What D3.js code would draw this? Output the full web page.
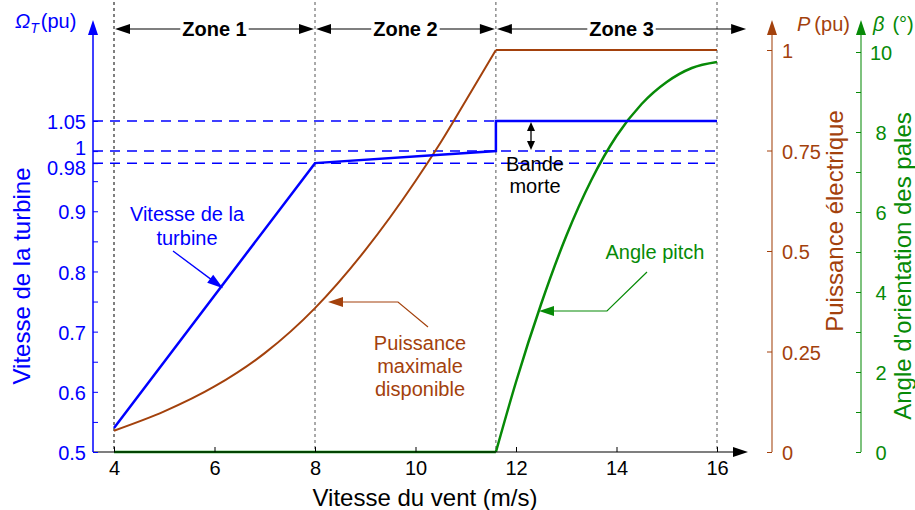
<!DOCTYPE html>
<html><head><meta charset="utf-8">
<script src="https://cdn.jsdelivr.net/npm/d3@7"></script>
<style>body{margin:0;background:#fff} svg text{font-family:"Liberation Sans",Arial,sans-serif}</style>
</head><body><svg id="c" width="915" height="510"></svg>
<script>
// ---- data ----
const windTicks=[4,6,8,10,12,14,16];
const speedTicks=[0.5,0.6,0.7,0.8,0.9,0.98,1,1.05];
const speedMinor=[0.55,0.65,0.75,0.85,0.95];
const powerTicks=[0,0.25,0.5,0.75,1];
const pitchTicks=[0,2,4,6,8,10];
const pitchMinor=[1,3,5,7,9];
const zoneBounds=[4,8,11.6,16.6];
const zoneNames=["Zone 1","Zone 2","Zone 3"];
const zoneLines=[4,8,11.6,16];
const refLevels=[1.05,1,0.98];
const turbineWind=[4,8,11.6,11.6,16];
const turbineSpeed=[0.54,0.98,1.0,1.05,1.05];
const powerWind=[4,5,6,7,8,9,10,10.5,11,11.6,16];
const powerVal=[0.053,0.101,0.163,0.246,0.358,0.502,0.674,0.77,0.874,1.0,1.0];
const pitchWind=[4,11.6,12,12.5,13,13.5,14,14.5,15,15.5,16];
const pitchVal=[0,0,1.75,3.7,5.4,6.8,7.9,8.7,9.25,9.6,9.75];

// ---- setup ----
const svg=d3.select("#c");
const BLUE="#0000ff", BROWN="#a3410c", GREEN="#078a07";
const x=d3.scaleLinear().domain([4,16]).range([114,717]);
const yS=d3.scaleLinear().domain([0.5,1.05]).range([452,121]);
const yP=d3.scaleLinear().domain([0,1]).range([452,50]);
const yB=d3.scaleLinear().domain([0,10]).range([452,52]);
const FS=20;

function head(g,tx,ty,ang,len,half,color){
  const c=Math.cos(ang), s=Math.sin(ang);
  const bx=tx-len*c, by=ty-len*s;
  const pts=[[tx,ty],[bx-half*s,by+half*c],[bx+half*s,by-half*c]];
  g.append("polygon").attr("points",pts.map(p=>p.join(",")).join(" ")).attr("fill",color);
}

// vertical zone lines
svg.append("g").selectAll("line").data(zoneLines).join("line")
  .attr("x1",d=>x(d)).attr("x2",d=>x(d)).attr("y1",2).attr("y2",452)
  .attr("stroke",(d,i)=>i===0?"#000":"#555").attr("stroke-width",1).attr("stroke-dasharray","3,3");

// reference dashed lines
svg.append("g").selectAll("line").data(refLevels).join("line")
  .attr("x1",93).attr("x2",x(16)).attr("y1",d=>yS(d)).attr("y2",d=>yS(d))
  .attr("stroke",BLUE).attr("stroke-width",1.5).attr("stroke-dasharray","10,7");

// zone arrows
const zg=svg.append("g");
zoneNames.forEach((nm,i)=>{
  const a=x(zoneBounds[i]), b=x(zoneBounds[i+1]), yy=29;
  zg.append("line").attr("x1",a+10).attr("x2",b-10).attr("y1",yy).attr("y2",yy).attr("stroke","#000").attr("stroke-width",1.2);
  head(zg,a+1,yy,Math.PI,15,5,"#000");
  head(zg,b-1,yy,0,15,5,"#000");
  const t=zg.append("text").attr("x",(a+b)/2).attr("y",36).attr("text-anchor","middle")
    .attr("font-size",FS).attr("font-weight","bold").text(nm);
  const bb=t.node().getBBox();
  zg.insert("rect","text:last-child").attr("x",bb.x-2).attr("y",yy-3).attr("width",bb.width+4).attr("height",6).attr("fill","#fff");
});

// power
const iP=powerWind.indexOf(11.6);
const pPts=powerWind.map((w,i)=>[w,powerVal[i]]);
svg.append("path").attr("d",d3.line().curve(d3.curveMonotoneX).x(d=>x(d[0])).y(d=>yP(d[1]))(pPts.slice(0,iP+1)))
  .attr("fill","none").attr("stroke",BROWN).attr("stroke-width",2);
svg.append("path").attr("d",d3.line().x(d=>x(d[0])).y(d=>yP(d[1]))(pPts.slice(iP)))
  .attr("fill","none").attr("stroke",BROWN).attr("stroke-width",2);

// pitch
const bPts=pitchWind.map((w,i)=>[w,pitchVal[i]]);
const iB=pitchWind.indexOf(11.6);
svg.append("path").attr("d",d3.line().x(d=>x(d[0])).y(d=>yB(d[1]))(bPts.slice(0,iB+1)))
  .attr("fill","none").attr("stroke",GREEN).attr("stroke-width",2.5);
svg.append("path").attr("d",d3.line().curve(d3.curveMonotoneX).x(d=>x(d[0])).y(d=>yB(d[1]))(bPts.slice(iB)))
  .attr("fill","none").attr("stroke",GREEN).attr("stroke-width",2.5);

// turbine speed
svg.append("path").attr("d",d3.line().x(d=>x(d[0])).y(d=>yS(d[1]))(turbineWind.map((w,i)=>[w,turbineSpeed[i]])))
  .attr("fill","none").attr("stroke",BLUE).attr("stroke-width",2.5);

// ---- axes ----
function styleAxis(g,color,fs){
  g.attr("font-family",null).attr("font-size",fs);
  g.selectAll("line").attr("stroke",color);
  g.selectAll("text").attr("fill",color);
}
// x axis
const gx=svg.append("g").attr("transform","translate(0,452)")
  .call(d3.axisBottom(x).tickValues(windTicks).tickSizeInner(-5).tickSizeOuter(0).tickPadding(9));
gx.select(".domain").remove(); styleAxis(gx,"#000",FS);
svg.append("line").attr("x1",93).attr("x2",735).attr("y1",452).attr("y2",452).attr("stroke","#000").attr("stroke-width",1.2);
head(svg,748,452,0,15,5,"#000");

// left axis
const gl=svg.append("g").attr("transform","translate(93,0)")
  .call(d3.axisLeft(yS).tickValues(speedTicks).tickFormat(d3.format("")).tickSizeInner(-5).tickSizeOuter(0).tickPadding(7));
gl.select(".domain").remove(); styleAxis(gl,BLUE,FS);
gl.selectAll("text").attr("dy",d=>d===1?"0.16em":d===0.98?"0.56em":"0.38em");
const glm=svg.append("g").attr("transform","translate(93,0)")
  .call(d3.axisLeft(yS).tickValues(speedMinor).tickFormat("").tickSizeInner(-5).tickSizeOuter(0));
glm.select(".domain").remove(); styleAxis(glm,BLUE,FS);
svg.append("line").attr("x1",93).attr("x2",93).attr("y1",452).attr("y2",32).attr("stroke",BLUE).attr("stroke-width",1.5);
head(svg,93,20,-Math.PI/2,15,5,BLUE);

// power axis
const AXP=772;
const gp=svg.append("g").attr("transform",`translate(${AXP},0)`)
  .call(d3.axisRight(yP).tickValues(powerTicks).tickFormat(d3.format("")).tickSizeInner(-5).tickSizeOuter(0).tickPadding(10));
gp.select(".domain").remove(); styleAxis(gp,BROWN,FS);
gp.selectAll("text").attr("dy","0.38em");
svg.append("line").attr("x1",AXP).attr("x2",AXP).attr("y1",452).attr("y2",32).attr("stroke",BROWN).attr("stroke-width",1.3).attr("opacity",0.8);
head(svg,AXP,20,-Math.PI/2,15,5,BROWN);

// pitch axis
const AXB=861;
const gb=svg.append("g").attr("transform",`translate(${AXB},0)`)
  .call(d3.axisRight(yB).tickValues(pitchTicks).tickSizeInner(-5).tickSizeOuter(0).tickPadding(20));
gb.select(".domain").remove(); styleAxis(gb,GREEN,FS);
gb.selectAll("text").attr("text-anchor","middle").attr("dy","0.38em");
const gbm=svg.append("g").attr("transform",`translate(${AXB},0)`)
  .call(d3.axisRight(yB).tickValues(pitchMinor).tickFormat("").tickSizeInner(-5).tickSizeOuter(0));
gbm.select(".domain").remove(); styleAxis(gbm,GREEN,FS);
svg.append("line").attr("x1",AXB).attr("x2",AXB).attr("y1",452).attr("y2",32).attr("stroke",GREEN).attr("stroke-width",1.3).attr("opacity",0.8);
head(svg,AXB,20,-Math.PI/2,15,5,GREEN);

// ---- titles ----
svg.append("text").attr("x",425).attr("y",506).attr("text-anchor","middle").attr("font-size",24).text("Vitesse du vent (m/s)");
svg.append("text").attr("transform","translate(30,276) rotate(-90)").attr("text-anchor","middle").attr("font-size",24).attr("fill",BLUE).text("Vitesse de la turbine");
svg.append("text").attr("transform","translate(843,221) rotate(-90)").attr("text-anchor","middle").attr("font-size",24).attr("fill",BROWN).text("Puissance électrique");
svg.append("text").attr("transform","translate(911,266) rotate(-90)").attr("text-anchor","middle").attr("font-size",24).attr("fill",GREEN).text("Angle d'orientation des pales");

const t1=svg.append("text").attr("x",15).attr("y",28).attr("font-size",FS).attr("fill",BLUE);
t1.append("tspan").attr("font-style","italic").text("Ω");
t1.append("tspan").attr("font-style","italic").attr("font-size",14).attr("dy",5).text("T");
t1.append("tspan").attr("dy",-5).attr("dx",2).text("(pu)");
const t2=svg.append("text").attr("x",797).attr("y",31).attr("font-size",FS).attr("fill",BROWN);
t2.append("tspan").attr("font-style","italic").text("P");
t2.append("tspan").attr("dx",4).text("(pu)");
const t3=svg.append("text").attr("x",873).attr("y",31).attr("font-size",FS).attr("fill",GREEN);
t3.append("tspan").attr("font-style","italic").text("β");
t3.append("tspan").attr("dx",8).text("(°)");

// ---- annotations ----
const ag=svg.append("g");
// turbine
ag.append("text").attr("x",187).attr("y",221).attr("text-anchor","middle").attr("font-size",FS).attr("fill",BLUE).text("Vitesse de la");
ag.append("text").attr("x",187).attr("y",245).attr("text-anchor","middle").attr("font-size",FS).attr("fill",BLUE).text("turbine");
{
  const tx=x(6.17), ty=yS(0.54+(6.17-4)*(0.44/4))+4, sx=173, sy=251;
  const ang=Math.atan2(ty-sy,tx-sx);
  ag.append("line").attr("x1",sx).attr("y1",sy).attr("x2",tx-12*Math.cos(ang)).attr("y2",ty-12*Math.sin(ang)).attr("stroke",BLUE).attr("stroke-width",1.3);
  head(ag,tx,ty,ang,16,5,BLUE);
}
// power
["Puissance","maximale","disponible"].forEach((s,i)=>ag.append("text").attr("x",420).attr("y",350+i*23).attr("text-anchor","middle").attr("font-size",FS).attr("fill",BROWN).text(s));
ag.append("polyline").attr("points","428,327 398,302 340,302").attr("fill","none").attr("stroke",BROWN).attr("stroke-width",1.2);
head(ag,328,302,Math.PI,15,5,BROWN);
// pitch
ag.append("text").attr("x",655).attr("y",259).attr("text-anchor","middle").attr("font-size",FS).attr("fill",GREEN).text("Angle pitch");
ag.append("polyline").attr("points","647,272 607,311 551,311").attr("fill","none").attr("stroke",GREEN).attr("stroke-width",1.2);
head(ag,539,311,Math.PI,15,5,GREEN);
// dead band
{
  const bx=531, ya=yS(1.05), yb=yS(1);
  ag.append("line").attr("x1",bx).attr("x2",bx).attr("y1",ya+6).attr("y2",yb-6).attr("stroke","#000").attr("stroke-width",1.3);
  head(ag,bx,ya+1,-Math.PI/2,9,4,"#000");
  head(ag,bx,yb-1,Math.PI/2,9,4,"#000");
}
ag.append("text").attr("x",535).attr("y",171).attr("text-anchor","middle").attr("font-size",FS).text("Bande");
ag.append("text").attr("x",535).attr("y",193).attr("text-anchor","middle").attr("font-size",FS).text("morte");
</script></body></html>
